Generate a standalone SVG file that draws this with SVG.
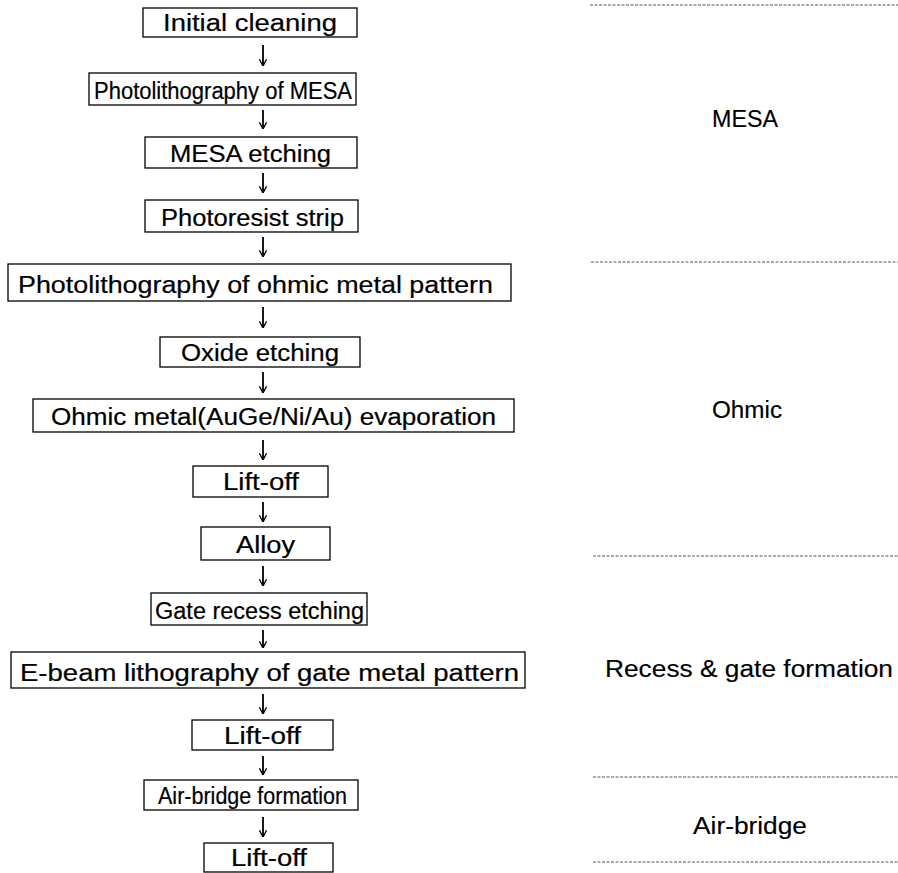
<svg xmlns="http://www.w3.org/2000/svg" width="898" height="873" viewBox="0 0 898 873">
<defs>
<style>
.box{fill:#fff;stroke:#000;stroke-width:1.3}
.t{font-family:"Liberation Sans",Arial,sans-serif;font-size:23px;fill:#000;stroke:#000;stroke-width:0.2}
.lab{font-family:"Liberation Sans",Arial,sans-serif;font-size:23px;fill:#000;stroke:#000;stroke-width:0.15;text-anchor:middle}
.arr{stroke:#000;stroke-width:1.8;fill:none;marker-end:url(#ah)}
.sep{stroke:#555;stroke-width:1;stroke-dasharray:3 1.5}
</style>
<marker id="ah" viewBox="0 0 10 10" refX="9.5" refY="5" markerWidth="8" markerHeight="10" markerUnits="userSpaceOnUse" orient="auto">
<path d="M1,0.5 L9.5,5 L1,9.5" fill="none" stroke="#000" stroke-width="1.7"/>
</marker>
</defs>
<rect width="898" height="873" fill="#fff"/>

<g id="connectors">
<line class="arr" x1="263" y1="45" x2="263" y2="66"/>
<line class="arr" x1="263" y1="110" x2="263" y2="129"/>
<line class="arr" x1="263" y1="173" x2="263" y2="193"/>
<line class="arr" x1="263" y1="237" x2="263" y2="257"/>
<line class="arr" x1="263" y1="307" x2="263" y2="328"/>
<line class="arr" x1="263" y1="372" x2="263" y2="393"/>
<line class="arr" x1="263" y1="440" x2="263" y2="460"/>
<line class="arr" x1="263" y1="502" x2="263" y2="522"/>
<line class="arr" x1="263" y1="566" x2="263" y2="586"/>
<line class="arr" x1="263" y1="630" x2="263" y2="648"/>
<line class="arr" x1="263" y1="694" x2="263" y2="714"/>
<line class="arr" x1="263" y1="756" x2="263" y2="775"/>
<line class="arr" x1="263" y1="817" x2="263" y2="837"/>
</g>

<g id="n1"><rect class="box" x="143" y="8" width="214" height="29"/><text class="t" x="163" y="31" textLength="174" lengthAdjust="spacingAndGlyphs">Initial cleaning</text></g>
<g id="n2"><rect class="box" x="89" y="73" width="267" height="32"/><text class="t" x="94" y="99" textLength="258" lengthAdjust="spacingAndGlyphs">Photolithography of MESA</text></g>
<g id="n3"><rect class="box" x="145" y="137" width="212" height="31"/><text class="t" x="170" y="162" textLength="161" lengthAdjust="spacingAndGlyphs">MESA etching</text></g>
<g id="n4"><rect class="box" x="145" y="200" width="213" height="32"/><text class="t" x="161" y="226" textLength="183" lengthAdjust="spacingAndGlyphs">Photoresist strip</text></g>
<g id="n5"><rect class="box" x="8" y="264" width="503" height="37"/><text class="t" x="18" y="293" textLength="475" lengthAdjust="spacingAndGlyphs">Photolithography of ohmic metal pattern</text></g>
<g id="n6"><rect class="box" x="160" y="337" width="200" height="30"/><text class="t" x="181" y="361" textLength="158" lengthAdjust="spacingAndGlyphs">Oxide etching</text></g>
<g id="n7"><rect class="box" x="33" y="399" width="481" height="33"/><text class="t" x="51" y="425" textLength="445" lengthAdjust="spacingAndGlyphs">Ohmic metal(AuGe/Ni/Au) evaporation</text></g>
<g id="n8"><rect class="box" x="193" y="466" width="135" height="31"/><text class="t" x="223" y="490" textLength="76" lengthAdjust="spacingAndGlyphs">Lift-off</text></g>
<g id="n9"><rect class="box" x="201" y="527" width="129" height="33"/><text class="t" x="236" y="553" textLength="59" lengthAdjust="spacingAndGlyphs">Alloy</text></g>
<g id="n10"><rect class="box" x="151" y="593" width="216" height="32"/><text class="t" x="155" y="619" textLength="209" lengthAdjust="spacingAndGlyphs">Gate recess etching</text></g>
<g id="n11"><rect class="box" x="11" y="652" width="514" height="36"/><text class="t" x="20" y="681" textLength="499" lengthAdjust="spacingAndGlyphs">E-beam lithography of gate metal pattern</text></g>
<g id="n12"><rect class="box" x="192" y="720" width="141" height="30"/><text class="t" x="224" y="744" textLength="77" lengthAdjust="spacingAndGlyphs">Lift-off</text></g>
<g id="n13"><rect class="box" x="144" y="780" width="214" height="30"/><text class="t" x="158" y="804" textLength="189" lengthAdjust="spacingAndGlyphs">Air-bridge formation</text></g>
<g id="n14"><rect class="box" x="204" y="843" width="129" height="29"/><text class="t" x="231" y="866" textLength="76" lengthAdjust="spacingAndGlyphs">Lift-off</text></g>

<g id="stages">
<line class="sep" x1="590" y1="5" x2="898" y2="5"/>
<line class="sep" x1="591" y1="262" x2="898" y2="262"/>
<line class="sep" x1="593" y1="556" x2="898" y2="556"/>
<line class="sep" x1="593" y1="777" x2="898" y2="777"/>
<line class="sep" x1="593" y1="862" x2="898" y2="862"/>
<text class="lab" x="745" y="127" textLength="66" lengthAdjust="spacingAndGlyphs">MESA</text>
<text class="lab" x="747" y="418" textLength="70" lengthAdjust="spacingAndGlyphs">Ohmic</text>
<text class="lab" x="749" y="677" textLength="288" lengthAdjust="spacingAndGlyphs">Recess &amp; gate formation</text>
<text class="lab" x="750" y="834" textLength="114" lengthAdjust="spacingAndGlyphs">Air-bridge</text>
</g>
</svg>
